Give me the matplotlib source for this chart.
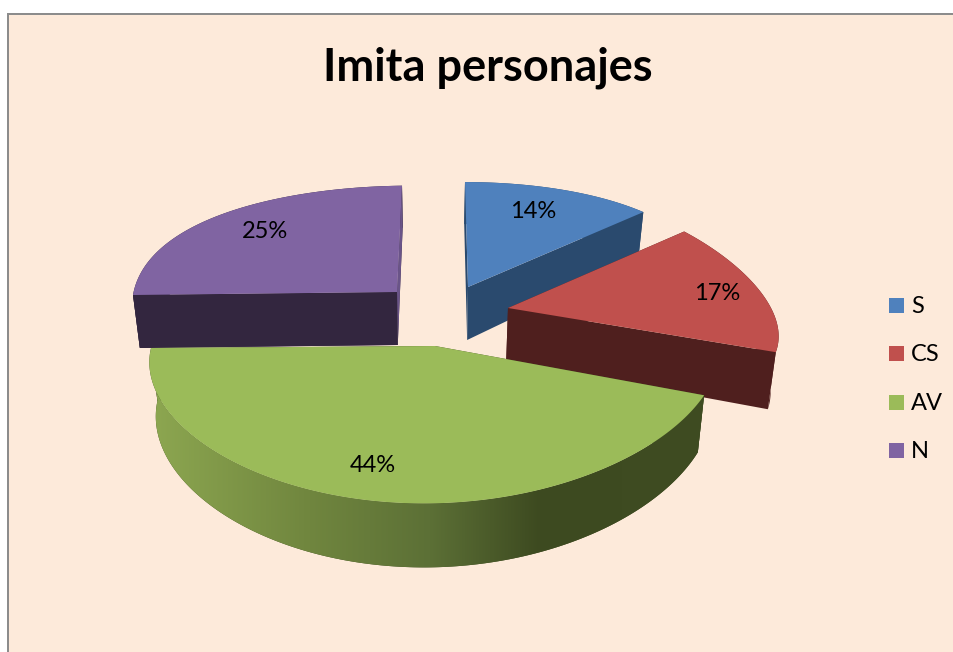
import numpy as np
import matplotlib
matplotlib.use("Agg")
import matplotlib.pyplot as plt
from matplotlib.colors import LinearSegmentedColormap
from matplotlib.patches import Polygon, Rectangle

etiquetas = ["S", "CS", "AV", "N"]
valores = [14, 17, 44, 25]
col_top = ["#4F81BD", "#C0504D", "#9BBB59", "#8064A2"]
col_lado = ["#2A4A6E", "#4F1F1E", "#3F4C22", "#33263F"]

# geometry of each exploded slice, in pixels
apex = [(468, 287), (508, 308), (435, 346), (397, 292)]
radio_x = [252, 263, 284, 264]
radio_y = [149, 120, 130, 135]
pers_x = [0.15, 0.236, 0.08, 0.07]
pers_y = [0.42, 0.0, 0.174, 0.27]
sesgo = [3, 0, -8, -5]
giro = [0, 0, -2, -3]
pos_txt = [(533, 211), (717, 293), (373, 465), (265, 231)]


def proyecta(i, ang, r=1.0, abajo=False):
    # ang is clockwise from the top
    X = r * np.sin(ang)
    Y = -r * np.cos(ang)
    x = apex[i][0] + radio_x[i] * X / (1 - pers_x[i] * Y) + sesgo[i] * Y
    y = apex[i][1] + radio_y[i] * Y / (1 - pers_y[i] * Y) + giro[i] * X
    if abajo:
        x = 430 + (x - 430) * 0.977
        y = y + 53 + 11 * Y
    return x, y


fig = plt.figure(figsize=(9.54, 6.52), dpi=100)
ax = fig.add_axes([0, 0, 1, 1])

ax.add_patch(Rectangle((8, 14), 960, 660, fc="#FDEADA", ec="#8C8C8C", lw=1.44))

fin = np.cumsum(valores) / 100 * 2 * np.pi
ini = np.concatenate([[0], fin[:-1]])
grad = LinearSegmentedColormap.from_list(
    "g", [(0, "#8CA650"), (0.27, "#71873F"), (0.5, "#5C7036"), (0.7, "#3D4A20"), (1, "#3F4C22")])

for i in [0, 3, 1, 2]:
    th = np.linspace(ini[i], fin[i], 200)
    xt, yt = proyecta(i, th)
    xb, yb = proyecta(i, th, abajo=True)
    a0t = proyecta(i, 0, r=0)
    a0b = proyecta(i, 0, r=0, abajo=True)
    # cut faces, the one further back first
    orden = [0, -1] if yt[0] < yt[-1] else [-1, 0]
    for k in orden:
        ax.add_patch(Polygon([a0t, (xt[k], yt[k]), (xb[k], yb[k]), a0b], fc=col_lado[i], ec="none"))
    # outer wall
    pared = Polygon(np.r_[np.c_[xt, yt], np.c_[xb[::-1], yb[::-1]]], fc=col_lado[i], ec="none")
    ax.add_patch(pared)
    if i == 2:
        im = ax.imshow(np.linspace(0, 1, 256).reshape(1, -1), cmap=grad, extent=(155, 705, 652, 0), aspect="auto",
                       zorder=1.5)
        im.set_clip_path(pared)
    if i == 3:
        # thin lighter strip of the N cut face, seen past the wall
        ax.add_patch(Polygon([a0t, (xt[-1], yt[-1]), (xb[-1], yb[-1]), a0b], fc="#6A5488", ec="none"))
        ax.add_patch(Polygon([a0t, (xt[0], yt[0]), (xb[0], yb[0]), a0b], fc=col_lado[i], ec="none"))
    ax.add_patch(Polygon(np.r_[[a0t], np.c_[xt, yt]], fc=col_top[i], ec="none", zorder=3))

ax.set_xlim(0, 954)
ax.set_ylim(652, 0)
ax.axis("off")

for i in range(4):
    ax.text(pos_txt[i][0], pos_txt[i][1], f"{valores[i]}%", fontsize=17, family="Lato", ha="center", va="center",
            color="black", zorder=5)

ax.text(488, 68, "Imita personajes", fontsize=32.5, fontweight="bold", family="Lato", ha="center", va="center",
        color="black")

for i, et in enumerate(etiquetas):
    y = 305.5 + i * 48.3
    ax.add_patch(Rectangle((889, y - 7.5), 15, 15, fc=col_top[i], ec="none"))
    ax.text(911, y + 1, et, fontsize=17, family="Lato", ha="left", va="center", color="black")

fig.savefig("out.png", dpi=100)
